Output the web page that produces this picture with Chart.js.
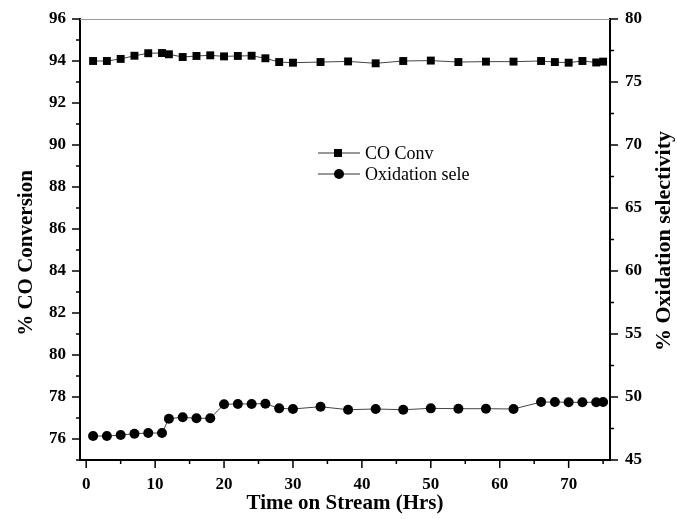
<!DOCTYPE html>
<html lang="en">
<head>
    <meta charset="UTF-8">
    <title>CO Conversion vs Time on Stream</title>
    <script src="https://cdn.jsdelivr.net/npm/chart.js"></script>
    <style>
        html, body { margin: 0; padding: 0; background: #fff; }
        #wrap { width: 677px; height: 519px; }
    </style>
</head>
<body>
<div id="wrap"><canvas id="mychart" width="677" height="519"></canvas></div>
<script>
    // values
    const hours = [1, 3, 5, 7, 9, 11, 12, 14, 16, 18, 20, 22, 24, 26, 28, 30, 34, 38, 42, 46, 50, 54, 58, 62, 66, 68, 70, 72, 74, 75];
    const coConv = [94.0, 94.0, 94.1, 94.25, 94.37, 94.38, 94.32, 94.19, 94.24, 94.27, 94.22, 94.24, 94.25, 94.13, 93.95,
        93.92, 93.95, 93.98, 93.89, 94.0, 94.02, 93.95, 93.97, 93.97, 94.0, 93.95, 93.92, 94.0, 93.93, 93.97];
    const oxSele = [46.90, 46.90, 46.98, 47.09, 47.14, 47.14, 48.28, 48.39, 48.31, 48.31, 49.42, 49.45, 49.45, 49.47, 49.10,
        49.05, 49.23, 48.99, 49.05, 48.99, 49.10, 49.07, 49.07, 49.05, 49.60, 49.60, 49.58, 49.58, 49.58, 49.60];

    const seriesNames = ['CO Conv', 'Oxidation sele'];
    const xTitle = 'Time on Stream (Hrs)';
    const yTitle = '% CO Conversion';
    const y2Title = '% Oxidation selectivity';

    const xTicks = [0, 10, 20, 30, 40, 50, 60, 70];
    const xMinor = [5, 15, 25, 35, 45, 55, 65, 75];
    const yTicks = [76, 78, 80, 82, 84, 86, 88, 90, 92, 94, 96];
    const yMinor = [75, 77, 79, 81, 83, 85, 87, 89, 91, 93, 95];
    const y2Ticks = [45, 50, 55, 60, 65, 70, 75, 80];
    const y2Minor = [47.5, 52.5, 57.5, 62.5, 67.5, 72.5, 77.5];

    const serif = "'Liberation Serif', 'Times New Roman', serif";
    Chart.defaults.color = '#000';

    const toPts = (ys) => hours.map((h, i) => ({x: h, y: ys[i]}));
    const setTicks = (list) => (axis) => { axis.ticks = list.map(v => ({value: v})); };
    // fixed box sizes, no label overhang so the plot area sits where the original one does
    const fixV = (w) => (s) => { s.width = w; s.paddingTop = 0; s.paddingBottom = 0; };
    const fixH = (h) => (s) => { s.height = h; s.paddingLeft = 0; s.paddingRight = 0; };

    // tick marks, top frame line, rotated axis titles and the legend
    const decor = {
        id: 'decor',
        afterDraw(chart) {
            const ctx = chart.ctx;
            const {left, right, top, bottom} = chart.chartArea;
            const sx = chart.scales.x, sy = chart.scales.y, sy2 = chart.scales.y2;
            ctx.save();
            ctx.strokeStyle = '#999';
            ctx.lineWidth = 1;
            ctx.beginPath();
            ctx.moveTo(left, top + 0.5);
            ctx.lineTo(right, top + 0.5);
            ctx.stroke();

            ctx.strokeStyle = '#000';
            ctx.lineWidth = 1.5;
            const tick = (x1, y1, x2, y2) => { ctx.beginPath(); ctx.moveTo(x1, y1); ctx.lineTo(x2, y2); ctx.stroke(); };
            xTicks.forEach(v => { const p = sx.getPixelForValue(v); tick(p, bottom, p, bottom + 8); });
            xMinor.forEach(v => { const p = sx.getPixelForValue(v); tick(p, bottom, p, bottom + 4); });
            yTicks.forEach(v => { const p = sy.getPixelForValue(v); tick(left, p, left - 8, p); });
            yMinor.forEach(v => { const p = sy.getPixelForValue(v); tick(left, p, left - 4, p); });
            y2Ticks.forEach(v => { const p = sy2.getPixelForValue(v); tick(right, p, right + 8, p); });
            y2Minor.forEach(v => { const p = sy2.getPixelForValue(v); tick(right, p, right + 4, p); });

            ctx.fillStyle = '#000';
            ctx.textAlign = 'center';
            ctx.textBaseline = 'middle';
            ctx.save();
            ctx.font = 'bold 21px ' + serif;
            ctx.translate(27, 253);
            ctx.rotate(-Math.PI / 2);
            ctx.fillText(yTitle, 0, 0);
            ctx.restore();
            ctx.save();
            ctx.font = 'bold 22px ' + serif;
            ctx.translate(664, 241);
            ctx.rotate(-Math.PI / 2);
            ctx.fillText(y2Title, 0, 0);
            ctx.restore();

            // legend
            ctx.font = '18px ' + serif;
            ctx.textAlign = 'left';
            const rows = [153, 174];
            chart.data.datasets.forEach((ds, i) => {
                const yy = rows[i];
                ctx.strokeStyle = '#333';
                ctx.lineWidth = 1;
                tick(318, yy, 360, yy);
                ctx.fillStyle = '#000';
                if (ds.pointStyle === 'rect') {
                    ctx.fillRect(334, yy - 4, 8, 8);
                } else {
                    ctx.beginPath();
                    ctx.arc(339, yy, 5, 0, Math.PI * 2);
                    ctx.fill();
                }
                ctx.fillText(ds.label, 365, yy + 1);
            });
            ctx.restore();
        }
    };

    const setting = {
        type: 'line',
        data: {
            datasets: [{
                label: seriesNames[0],
                data: toPts(coConv),
                yAxisID: 'y',
                borderColor: '#444',
                borderWidth: 1,
                pointStyle: 'rect',
                pointRadius: 5.6,
                pointBackgroundColor: '#000',
                pointBorderColor: '#000',
                pointBorderWidth: 0
            }, {
                label: seriesNames[1],
                data: toPts(oxSele),
                yAxisID: 'y2',
                borderColor: '#444',
                borderWidth: 1,
                pointStyle: 'circle',
                pointRadius: 5,
                pointBackgroundColor: '#000',
                pointBorderColor: '#000',
                pointBorderWidth: 0
            }]
        },
        options: {
            responsive: false,
            animation: false,
            layout: {padding: {top: 19, left: 0, right: 0, bottom: 0}},
            plugins: {legend: {display: false}, tooltip: {enabled: false}},
            scales: {
                x: {
                    type: 'linear',
                    min: -0.9,
                    max: 76,
                    afterBuildTicks: setTicks(xTicks),
                    afterFit: fixH(59),
                    grid: {display: false, drawTicks: false},
                    border: {display: true, color: '#000', width: 2},
                    ticks: {padding: 14, font: {family: serif, size: 17, weight: 'bold'}},
                    title: {display: true, text: xTitle, padding: {top: 0, bottom: 3},
                        font: {family: serif, size: 21, weight: 'bold'}}
                },
                y: {
                    position: 'left',
                    min: 75,
                    max: 96,
                    afterBuildTicks: setTicks(yTicks),
                    afterFit: fixV(80),
                    grid: {display: false, drawTicks: false},
                    border: {display: true, color: '#000', width: 2},
                    ticks: {padding: 14, font: {family: serif, size: 17, weight: 'bold'}}
                },
                y2: {
                    position: 'right',
                    min: 45,
                    max: 80,
                    afterBuildTicks: setTicks(y2Ticks),
                    afterFit: fixV(67),
                    grid: {display: false, drawTicks: false},
                    border: {display: true, color: '#000', width: 2},
                    ticks: {padding: 15, font: {family: serif, size: 17, weight: 'bold'}}
                }
            }
        },
        plugins: [decor]
    };

    new Chart(document.getElementById('mychart'), setting);
</script>
</body>
</html>
